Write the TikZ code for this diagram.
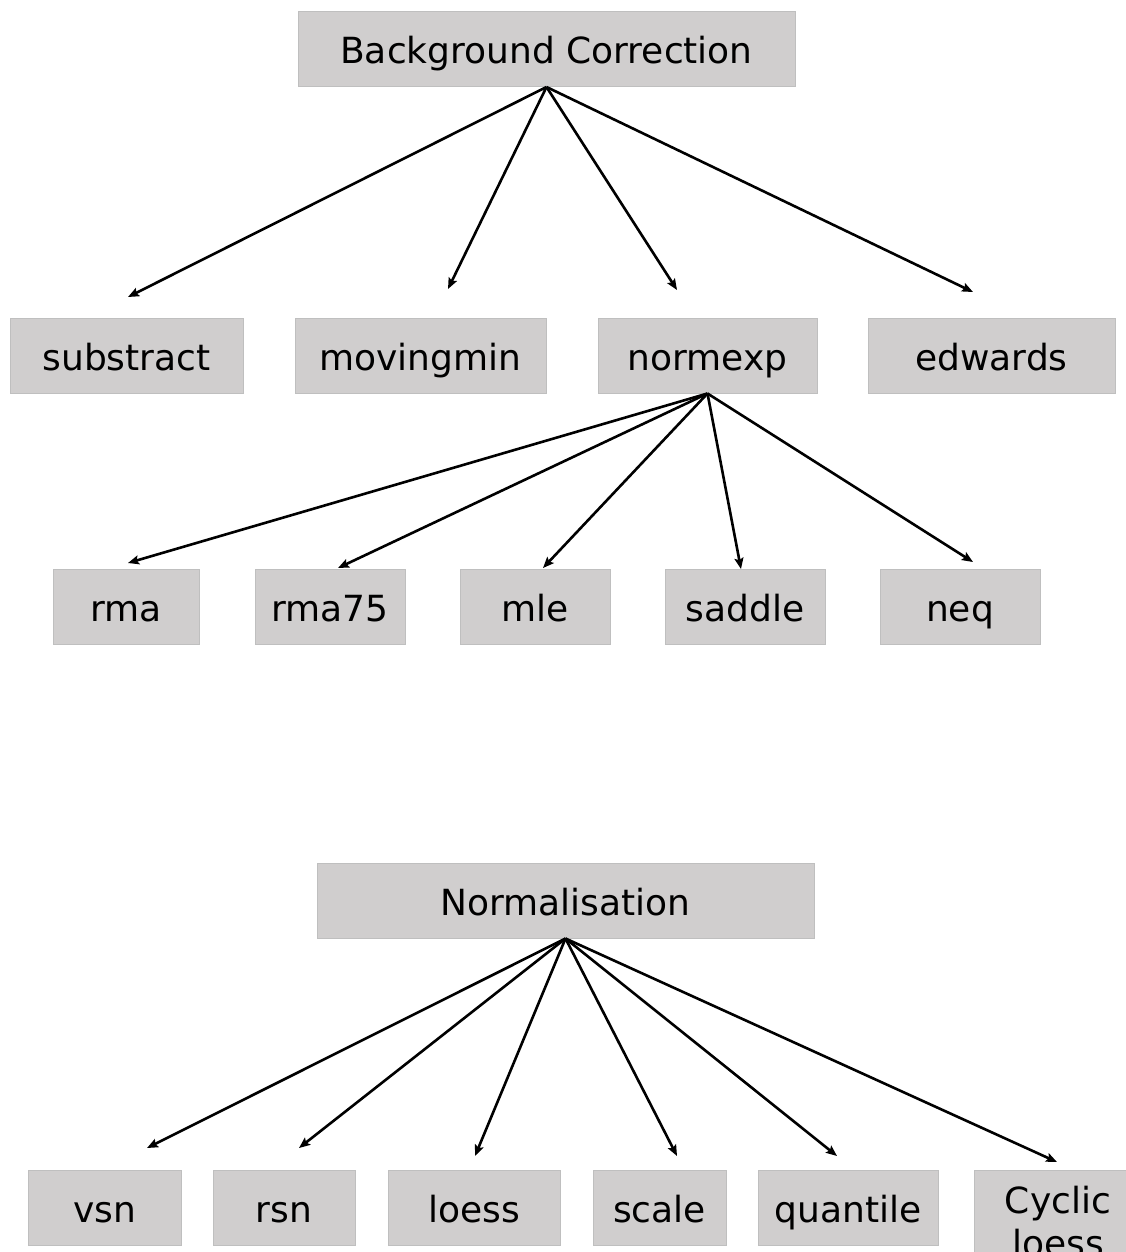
\documentclass[tikz,border=0pt]{standalone}
\usepackage{fontspec}
\setmainfont{DejaVu Sans}
\usetikzlibrary{arrows.meta}
\definecolor{boxfill}{HTML}{D0CECE}
\definecolor{boxline}{HTML}{BFBFBF}
\begin{document}
\begin{tikzpicture}[x=1pt,y=-1pt,
  boxbase/.style={draw=boxline,fill=boxfill,line width=1pt,inner sep=0pt,
    font=\fontsize{36}{43}\selectfont},
  box/.style={boxbase,minimum height=75pt,text height=29pt,text depth=0pt},
  arr/.style={line width=2.6pt,-{Stealth[length=11pt,width=9pt,inset=2pt]}}]
\clip (0,0) rectangle (1126,1252);
\useasboundingbox (0,0) rectangle (1126,1252);

% top tree
\node[box,minimum width=497pt] (bc) at (546.5,49) {Background Correction};
\node[box,minimum width=233pt] (substract) at (126.5,355.5) {substract};
\node[box,minimum width=251pt] (movingmin) at (420.5,355.5) {movingmin};
\node[box,minimum width=219pt] (normexp) at (707.5,355.5) {normexp};
\node[box,minimum width=247pt] (edwards) at (991.5,355.5) {edwards};

\node[box,minimum width=146pt] (rma) at (126,606.5) {rma};
\node[box,minimum width=150pt] (rma75) at (330,606.5) {rma75};
\node[box,minimum width=150pt] (mle) at (535,606.5) {mle};
\node[box,minimum width=160pt] (saddle) at (745,606.5) {saddle};
\node[box,minimum width=160pt] (neq) at (960,606.5) {neq};

% bottom tree
\node[box,minimum width=497pt] (norm) at (565.5,900.5) {Normalisation};
\node[box,minimum width=153pt] (vsn) at (104.5,1207.5) {vsn};
\node[box,minimum width=142pt] (rsn) at (284,1207.5) {rsn};
\node[box,minimum width=172pt] (loess) at (474,1207.5) {loess};
\node[box,minimum width=133pt] (scale) at (659.5,1207.5) {scale};
\node[box,minimum width=180pt] (quantile) at (848,1207.5) {quantile};
\node[boxbase,minimum width=168pt,minimum height=104pt,align=center] (cyclic) at (1058,1222) {Cyclic\\loess};

% arrow end points
\coordinate (e1) at (128,297);
\coordinate (e2) at (448,289);
\coordinate (e3) at (677,290);
\coordinate (e4) at (973,292);

\coordinate (f1) at (128,563);
\coordinate (f2) at (338,568);
\coordinate (f3) at (543,568);
\coordinate (f4) at (741,569);
\coordinate (f5) at (973,562);

\coordinate (g1) at (147,1148);
\coordinate (g2) at (299,1148);
\coordinate (g3) at (475,1156);
\coordinate (g4) at (677,1156);
\coordinate (g5) at (837,1156);
\coordinate (g6) at (1057,1162);

\foreach \t in {e1,e2,e3,e4} \draw[arr] (bc.south) -- (\t);
\foreach \t in {f1,f2,f3,f4,f5} \draw[arr] (normexp.south) -- (\t);
\foreach \t in {g1,g2,g3,g4,g5,g6} \draw[arr] (norm.south) -- (\t);
\end{tikzpicture}
\end{document}
